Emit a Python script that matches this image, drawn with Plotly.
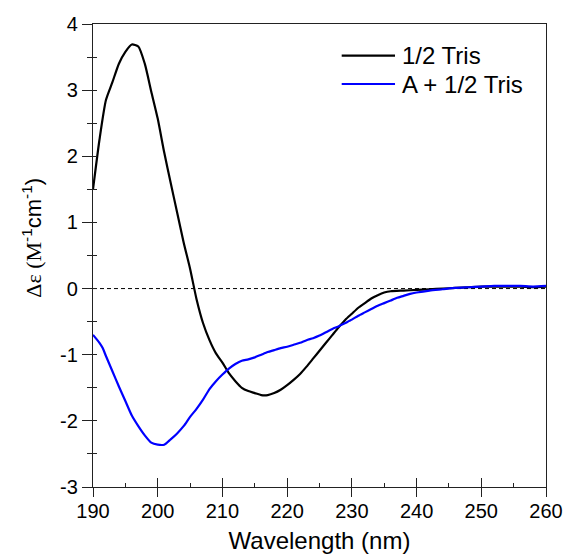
import plotly.graph_objects as go

# ---- data ----
wl_tris = [190, 191, 192, 193, 194, 195, 196, 197, 198, 199, 200, 201, 202, 203, 204,
           205, 206, 207, 208, 209, 210, 211, 212, 213, 214, 215, 216, 217, 218, 219,
           220, 221, 222, 223, 224, 225, 226, 227, 228, 229, 230, 231, 232, 233, 234,
           235, 236, 238, 240, 242, 244, 246, 248, 250, 252, 254, 256, 258, 260]
cd_tris = [1.50, 2.25, 2.85, 3.12, 3.40, 3.58, 3.69, 3.66, 3.40, 2.98, 2.57, 2.06, 1.60, 1.15, 0.70,
           0.30, -0.16, -0.52, -0.78, -0.98, -1.12, -1.28, -1.40, -1.50, -1.55, -1.58, -1.61, -1.61, -1.58, -1.53,
           -1.46, -1.38, -1.29, -1.18, -1.06, -0.94, -0.82, -0.70, -0.58, -0.47, -0.38, -0.29, -0.22, -0.15, -0.10,
           -0.06, -0.04, -0.03, -0.02, -0.01, 0.00, 0.01, 0.02, 0.03, 0.03, 0.03, 0.03, 0.02, 0.03]

wl_a = [190, 191, 191.5, 192, 193, 194, 195, 196, 197, 198, 199, 200, 201, 202, 203, 204,
        205, 206, 207, 208, 209, 210, 211, 212, 213, 214, 215, 216, 217, 218, 219,
        220, 221, 222, 223, 224, 225, 226, 227, 228, 229, 230, 231, 232, 233, 234,
        235, 236, 237, 238, 239, 240, 242, 244, 246, 248, 250, 252, 254, 256, 258, 260]
cd_a = [-0.70, -0.82, -0.90, -1.02, -1.25, -1.48, -1.70, -1.92, -2.08, -2.22, -2.33, -2.36, -2.36, -2.28, -2.19, -2.08,
        -1.94, -1.82, -1.68, -1.52, -1.40, -1.30, -1.21, -1.14, -1.09, -1.07, -1.04, -1.00, -0.96, -0.93, -0.90,
        -0.88, -0.85, -0.82, -0.78, -0.75, -0.71, -0.66, -0.61, -0.57, -0.52, -0.47, -0.41, -0.36, -0.31, -0.26,
        -0.22, -0.18, -0.14, -0.11, -0.08, -0.06, -0.03, -0.01, 0.01, 0.02, 0.03, 0.04, 0.04, 0.04, 0.03, 0.04]

series_names = ["1/2 Tris", "A + 1/2 Tris"]
series_colors = ["#000000", "#0000ff"]
x_ticks = [190, 200, 210, 220, 230, 240, 250, 260]
y_ticks = [-3, -2, -1, 0, 1, 2, 3, 4]
y_ticklabels = ["-3", "-2", "-1", "0", "1", "2", "3", "4"]

FONT = "Liberation Sans, Arial, sans-serif"
AX = "#222222"

fig = go.Figure()
fig.add_trace(go.Scatter(x=wl_tris, y=cd_tris, mode="lines", name=series_names[0],
                         line=dict(color=series_colors[0], width=2.2, shape="spline", smoothing=0.6),
                         showlegend=False))
fig.add_trace(go.Scatter(x=wl_a, y=cd_a, mode="lines", name=series_names[1],
                         line=dict(color=series_colors[1], width=2.2, shape="spline", smoothing=0.6),
                         showlegend=False))
# dummy trace for overlay axes (extra ticks)
fig.add_trace(go.Scatter(x=[None], y=[None], xaxis="x2", yaxis="y2", showlegend=False,
                         hoverinfo="skip"))

fig.add_shape(type="line", xref="x", yref="y", x0=190, x1=260, y0=0, y1=0,
              line=dict(color="black", width=1, dash="4px,3px"), layer="below")

# manual legend
leg_y = [0.9315, 0.8704]
for name, col, yy in zip(series_names, series_colors, leg_y):
    fig.add_shape(type="line", xref="paper", yref="paper", x0=0.549, x1=0.6667, y0=yy, y1=yy,
                  line=dict(color=col, width=2.2))
    fig.add_annotation(xref="paper", yref="paper", x=0.6777, y=yy, text=name, showarrow=False,
                       xanchor="left", yanchor="middle", font=dict(family=FONT, size=24, color="black"))

# y-axis title
fig.add_annotation(xref="paper", yref="paper", x=-0.135, y=0.538, textangle=-90, showarrow=False,
                   xanchor="center", yanchor="middle",
                   text="<span style='font-family:Liberation Serif'>Δε (M</span><sup>-1</sup>cm<sup>-1</sup>)",
                   font=dict(family=FONT, size=22, color="black"))

fig.update_layout(
    width=563, height=558,
    margin=dict(l=93, r=17, t=24, b=71),
    paper_bgcolor="white", plot_bgcolor="white",
    font=dict(family=FONT, size=20, color="black"),
    xaxis=dict(range=[190, 260], tickvals=x_ticks, ticks="inside", ticklen=9, tickwidth=1.3,
               tickcolor=AX, showline=True, linecolor=AX, linewidth=1.3, mirror=True,
               showgrid=False, zeroline=False, tickfont=dict(size=20), automargin=False,
               ticklabelstandoff=6,
               minor=dict(dtick=5, ticks="inside", ticklen=4, tickwidth=1.3, tickcolor=AX),
               title=dict(text="Wavelength (nm)", font=dict(size=24), standoff=11)),
    yaxis=dict(range=[-3, 4], tickvals=y_ticks, ticktext=y_ticklabels, ticks="outside", ticklen=10,
               tickwidth=1.3, automargin=False,
               tickcolor=AX, showline=True, linecolor=AX, linewidth=1.3, mirror=True,
               showgrid=False, zeroline=False, tickfont=dict(size=20),
               minor=dict(dtick=0.5, ticks="outside", ticklen=5, tickwidth=1.3, tickcolor=AX)),
    xaxis2=dict(overlaying="x", range=[190, 260], tickvals=x_ticks, ticks="outside", ticklen=9,
                tickwidth=1.3, tickcolor=AX, showticklabels=False, showline=False,
                showgrid=False, zeroline=False, automargin=False),
    yaxis2=dict(overlaying="y", range=[-3, 4], dtick=0.5, ticks="inside", ticklen=4,
                tickwidth=1.3, tickcolor=AX, showticklabels=False, showline=False,
                showgrid=False, zeroline=False, automargin=False),
)

fig.write_html("out.html", config={"displayModeBar": False},
               post_script="document.body.style.margin='0';document.body.style.overflow='hidden';")
